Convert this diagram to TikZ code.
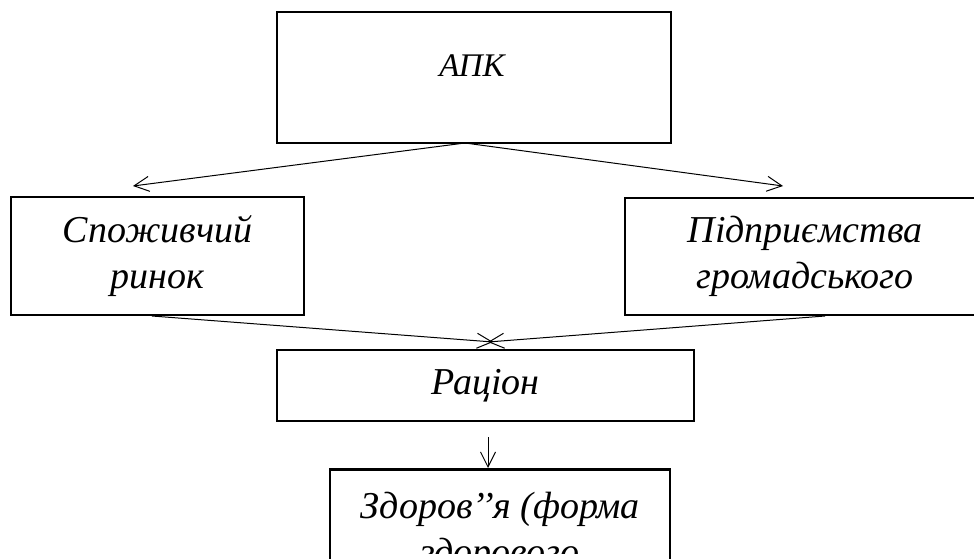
\documentclass[tikz,border=0pt]{standalone}
\usepackage{fontspec}
\setmainfont{Liberation Serif}
\usetikzlibrary{arrows.meta}
\begin{document}
\begin{tikzpicture}[x=1pt,y=-1pt,
  boxnode/.style={draw, line width=2.8pt, rectangle, inner sep=0pt, align=center,
    font=\fontsize{38}{46}\selectfont\itshape},
  lbl/.style={inner sep=0pt, font=\fontsize{33}{40}\selectfont\itshape},
  conn/.style={line width=1pt, -{Straight Barb[length=15pt,width=15pt,line width=1pt]}}]
\useasboundingbox (0,0) rectangle (974,559);
\clip (0,0) rectangle (974,559);
% boxes
\node[boxnode, minimum width=394pt, minimum height=131pt] (apk) at (474,77.5) {};
\node[lbl] (apktext) at (472,66) {АПК};
\node[boxnode, minimum width=293pt, minimum height=118pt] (spoz) at (157.5,256) {Споживчий\\ринок};
\node[boxnode, minimum width=360pt, minimum height=117pt] (pidp) at (805,256.5) {Підприємства\\громадського};
\node[boxnode, minimum width=417pt, minimum height=71pt] (rac) at (485.5,385.5) {Раціон};
\node[boxnode, minimum width=340pt, minimum height=140pt, anchor=north] (zdor) at (500,468) {};
\begin{scope}
\clip (0,0) rectangle (974,553);
\node[lbl, font=\fontsize{38}{46}\selectfont\itshape, align=center, anchor=north, inner sep=0pt] (zdortext) at (500,492) {Здоров’’я (форма\\здорового};
\end{scope}
% connector end points
\coordinate (apkout) at (465,143);
\coordinate (spozin) at (133,186);
\coordinate (pidpin) at (783,186);
\coordinate (spozout) at (152,316);
\coordinate (pidpout) at (825,316);
\coordinate (racinL) at (493,342);
\coordinate (racinR) at (488,342);
\coordinate (racout) at (488,437);
\coordinate (zdorin) at (488,468);
% connectors
\draw[conn] (apkout) -- (spozin);
\draw[conn] (apkout) -- (pidpin);
\draw[conn] (spozout) -- (racinL);
\draw[conn] (pidpout) -- (racinR);
\draw[conn] (racout) -- (zdorin);
\end{tikzpicture}
\end{document}
